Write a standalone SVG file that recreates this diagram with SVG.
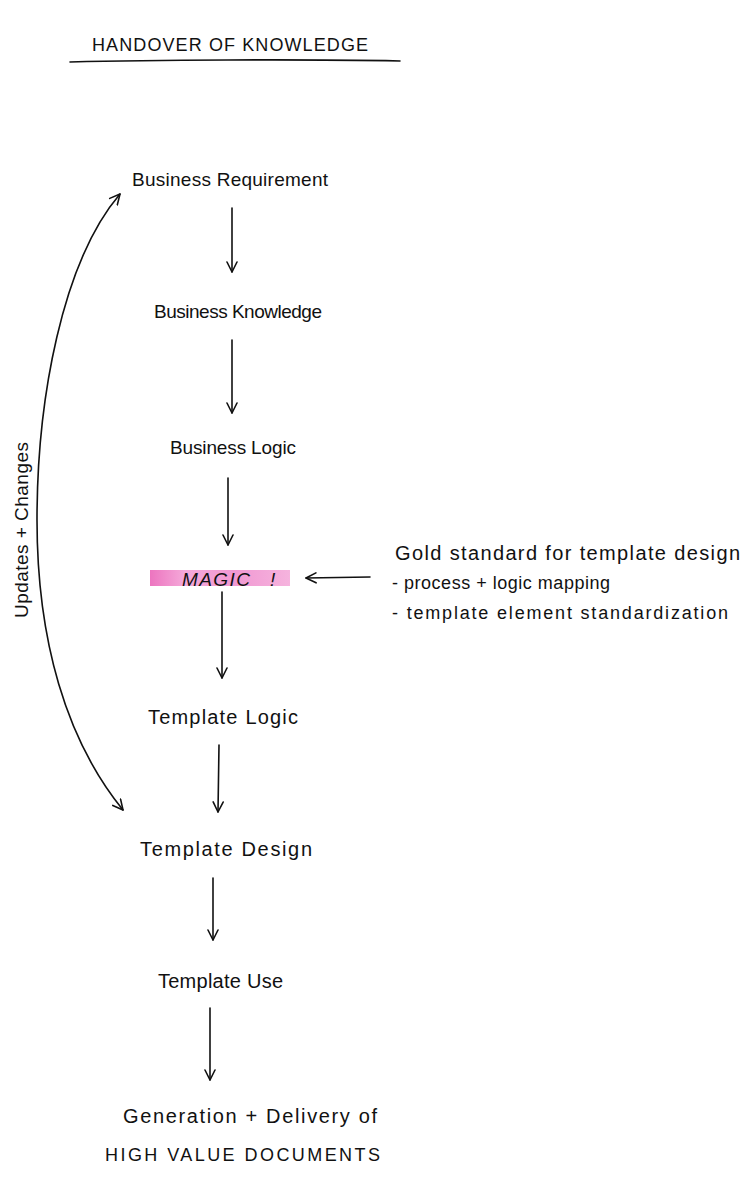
<svg xmlns="http://www.w3.org/2000/svg" width="750" height="1189" viewBox="0 0 750 1189">
<defs>
<marker id="ah" viewBox="0 0 12 12" refX="11" refY="6" markerWidth="12" markerHeight="12" markerUnits="userSpaceOnUse" orient="auto-start-reverse">
<path d="M1,1 L11,6 L1,11" fill="none" stroke="#111" stroke-width="1.6" stroke-linecap="round" stroke-linejoin="round"/>
</marker>
<linearGradient id="hl" x1="0" y1="0" x2="1" y2="0">
<stop offset="0" stop-color="#e95cb4"/>
<stop offset="0.25" stop-color="#f39ad3"/>
<stop offset="0.6" stop-color="#ee86ca"/>
<stop offset="1" stop-color="#f4a6d8"/>
</linearGradient>
</defs>
<style>
text{font-family:"Liberation Sans",Arial,sans-serif;fill:#111;font-size:19px}
.b{font-size:20px}
.t{font-size:18px}
.s{font-size:18px}
.c{stroke:#111;stroke-width:1.6;fill:none;stroke-linecap:round}
</style>
<rect width="750" height="1189" fill="#fff"/>
<g id="title">
<text class="t" x="92" y="51" textLength="276">HANDOVER OF KNOWLEDGE</text>
<path class="c" d="M70,62 C150,60 300,59 400,61"/>
</g>
<g id="business-requirement"><text x="132" y="186" textLength="196">Business Requirement</text></g>
<g id="business-knowledge"><text x="154" y="318" textLength="168">Business Knowledge</text></g>
<g id="business-logic"><text x="170" y="454" textLength="126">Business Logic</text></g>
<g id="magic">
<rect x="150" y="570" width="140" height="16" fill="url(#hl)" opacity="0.85"/>
<text x="182" y="586" font-size="16" font-style="italic" textLength="68">MAGIC</text>
<text x="270" y="586" font-size="20" font-style="italic">!</text>
</g>
<g id="gold-standard">
<text class="b" x="395" y="560" textLength="345">Gold standard for template  design</text>
<text class="s" x="392" y="589" textLength="218">- process + logic mapping</text>
<text class="s" x="392" y="619" textLength="336">- template element standardization</text>
</g>
<g id="template-logic"><text class="b" x="148" y="724" textLength="150">Template Logic</text></g>
<g id="template-design"><text class="b" x="140" y="856" textLength="172">Template  Design</text></g>
<g id="template-use"><text class="b" x="158" y="988" textLength="125">Template Use</text></g>
<g id="output">
<text class="b" x="123" y="1123" textLength="254">Generation + Delivery of</text>
<text class="t" x="105" y="1161" textLength="275">HIGH VALUE DOCUMENTS</text>
</g>
<g id="updates-label"><text transform="translate(28,530) rotate(-90)" text-anchor="middle" textLength="176">Updates + Changes</text></g>
<g id="connectors">
<path class="c" marker-end="url(#ah)" d="M232,208 L232,272"/>
<path class="c" marker-end="url(#ah)" d="M232,340 L232,413"/>
<path class="c" marker-end="url(#ah)" d="M228,478 L228,545"/>
<path class="c" marker-end="url(#ah)" d="M370,577 L306,578"/>
<path class="c" marker-end="url(#ah)" d="M222,592 L222,678"/>
<path class="c" marker-end="url(#ah)" d="M219,745 L218,812"/>
<path class="c" marker-end="url(#ah)" d="M213,878 L213,940"/>
<path class="c" marker-end="url(#ah)" d="M210,1008 L210,1080"/>
<path class="c" marker-start="url(#ah)" marker-end="url(#ah)" d="M120,194 C62,262 37,400 37,520 C37,640 66,740 123,810"/>
</g>
</svg>
